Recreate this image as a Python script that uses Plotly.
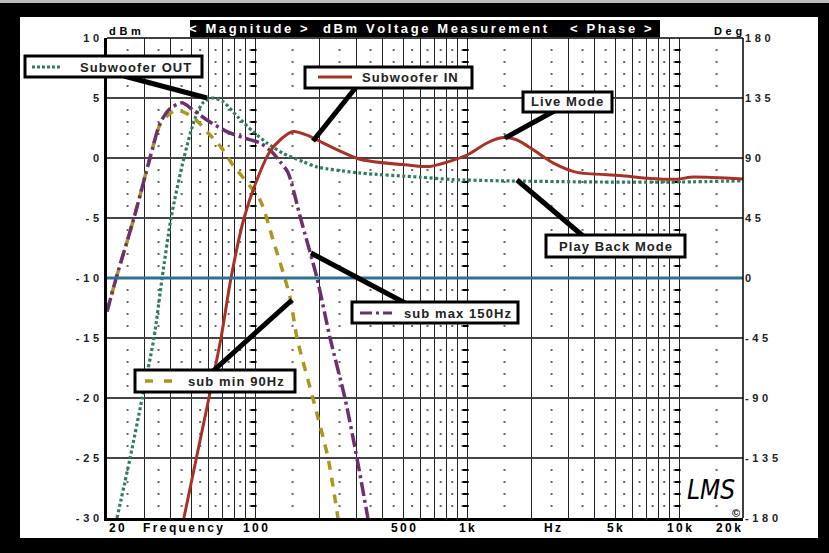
import numpy as np
import plotly.graph_objects as go

# ---------------- data ----------------
in_freq = [46.1, 60.5, 69.0, 76.9, 88.6, 105, 117, 131, 151, 176, 196, 312, 537, 668, 1000,
           1240, 1476, 1718, 2044, 2540, 3296, 5258, 7284, 10090, 11246, 20000]
in_db = [-30, -20, -15, -10, -5, -1.25, 0.5, 1.5, 2.2, 1.9, 1.5, -0.1, -0.6, -0.7, 0.25,
         1.25, 1.7, 1.5, 0.7, -0.4, -1.2, -1.45, -1.7, -1.75, -1.6, -1.75]

out_freq = [22.3, 25.7, 29.3, 33.3, 36.4, 40.1, 46.1, 52.0, 56.7, 63.2, 70.5, 83.0, 97.7,
            113.7, 135, 168, 196, 312, 599, 857, 1428, 4232, 10090, 20000]
out_db = [-30, -25, -20, -15, -10, -5, 0, 3.3, 4.6, 5.0, 4.7, 3.4, 2.2,
          1.25, 0.4, -0.3, -0.75, -1.25, -1.6, -1.8, -1.9, -2.0, -2.0, -1.9]

max_freq = [20, 22.1, 26.8, 31.9, 35.6, 39.6, 45.2, 50.9, 61.2, 73.6, 87.6, 105.4, 120,
            131, 142.8, 163.6, 195.7, 225.5, 265, 302, 340]
max_db = [-12.8, -10, -5, 0, 2.9, 4.1, 4.6, 4.0, 3.0, 2.2, 1.7, 1.25, 0.5,
          -0.3, -1.2, -5, -10, -15, -20, -25, -30]

min_freq = [20, 22.1, 26.8, 31.9, 35.6, 39.6, 42.8, 50.9, 59.9, 69.7, 78.6, 105.4, 121.3,
            146, 157.5, 187, 220.6, 245.8]
min_db = [-12.8, -10, -5, 0, 2.8, 3.7, 4.0, 3.4, 2.1, 0.8, -0.6, -3.5, -6.8,
          -11.6, -15, -20, -25, -30]

phase_freq = [20, 20000]
phase_deg = [0, 0]

db_ticks = [10, 5, 0, -5, -10, -15, -20, -25, -30]
deg_ticks = [180, 135, 90, 45, 0, -45, -90, -135, -180]
grid_freqs = [30, 40, 50, 60, 70, 80, 90, 100, 200, 300, 400, 500, 600, 700, 800, 900,
              1000, 2000, 3000, 4000, 5000, 6000, 7000, 8000, 9000, 10000]
decade_freqs = [100, 1000, 10000]
dot_freqs = [25, 35, 45, 55, 65, 75, 85, 95, 150, 250, 350, 450, 550, 650, 750, 850, 950,
             1500, 2500, 3500, 4500, 5500, 6500, 7500, 8500, 9500, 15000]
freq_labels = [(20, "20"), (45.7, "Frequency"), (100, "100"), (500, "500"), (1000, "1k"),
               (2520, "Hz"), (5000, "5k"), (10000, "10k"), (20000, "20k")]

# ---------------- styling ----------------
THIN = "\u2009"
HAIR = "\u200a"
GAP = "\u2004"
def sp(s, gap=THIN):
    return gap.join(s)

def num_label(v):
    s = str(v)
    if s.startswith("-"):
        return "-" + GAP + GAP.join(s[1:])
    return GAP.join(s)

FONT = "Liberation Sans"
RED = "#A83226"
GREEN = "#2E7D5E"
PURPLE = "#6E2F6E"
OLIVE = "#A8981C"
BLUE = "#2E7191"

L, R, T, B = 107, 743, 38, 518
W, H = 829, 553
def px(x):
    return (x - L) / (R - L)
def py(y):
    return (B - y) / (B - T)

fig = go.Figure()

# dot grid
dot_y = [v for v in range(-29, 10) if v % 5 != 0]
dx, dy = [], []
for f in dot_freqs:
    for v in dot_y:
        dx.append(f); dy.append(v)
fig.add_trace(go.Scatter(x=dx, y=dy, mode="markers",
                         marker=dict(size=2, color="#666666", symbol="square"),
                         hoverinfo="skip", showlegend=False))
tx, ty = [], []
for f in decade_freqs:
    for v in dot_y:
        tx.append(f * 0.985); ty.append(v)
fig.add_trace(go.Scatter(x=tx, y=ty, mode="markers",
                         marker=dict(size=4, color="#000000", symbol="line-ew",
                                     line=dict(width=2, color="#000000")),
                         hoverinfo="skip", showlegend=False))

fig.add_trace(go.Scatter(x=phase_freq, y=phase_deg, yaxis="y2", mode="lines",
                         line=dict(color=BLUE, width=3), showlegend=False))
fig.add_trace(go.Scatter(x=out_freq, y=out_db, mode="lines",
                         line=dict(color=GREEN, width=3.2, dash="3px,2.5px", shape="spline",
                                   smoothing=0.7), showlegend=False))
fig.add_trace(go.Scatter(x=min_freq, y=min_db, mode="lines",
                         line=dict(color=OLIVE, width=3.5, dash="9px,8px", shape="spline",
                                   smoothing=0.7), showlegend=False))
fig.add_trace(go.Scatter(x=max_freq, y=max_db, mode="lines",
                         line=dict(color=PURPLE, width=3.5, dash="14px,4px,3px,4px",
                                   shape="spline", smoothing=0.7), showlegend=False))
fig.add_trace(go.Scatter(x=in_freq, y=in_db, mode="lines",
                         line=dict(color=RED, width=3, shape="spline", smoothing=0.7),
                         showlegend=False))

shapes = []
# frame: white inner panel on black paper
shapes.append(dict(type="rect", xref="paper", yref="paper", x0=px(20), x1=px(818),
                   y0=py(538), y1=py(17), fillcolor="white", line=dict(width=0), layer="below"))
shapes.append(dict(type="rect", xref="paper", yref="paper", x0=px(0), x1=px(829),
                   y0=py(3), y1=py(0), fillcolor="#bbbbbb", line=dict(width=0), layer="below"))
# header bar
shapes.append(dict(type="rect", xref="paper", yref="paper", x0=px(190), x1=px(660),
                   y0=py(37), y1=py(20), fillcolor="black", line=dict(width=0), layer="above"))
# top and right frame lines
shapes.append(dict(type="line", xref="paper", yref="paper", x0=0, x1=1, y0=1, y1=1,
                   line=dict(color="black", width=1.5), layer="above"))
shapes.append(dict(type="line", xref="paper", yref="paper", x0=1, x1=1, y0=0, y1=1,
                   line=dict(color="black", width=1.5), layer="above"))

def pointer(x0, y0, x1, y1):
    shapes.append(dict(type="line", xref="paper", yref="paper", x0=px(x0), y0=py(y0),
                       x1=px(x1), y1=py(y1), line=dict(color="black", width=5), layer="above"))

def box(x0, y0, x1, y1):
    shapes.append(dict(type="rect", xref="paper", yref="paper", x0=px(x0), x1=px(x1),
                       y0=py(y1), y1=py(y0), fillcolor="white",
                       line=dict(color="black", width=3), layer="above"))

def sample(x0, x1, y, color, dash, width=3):
    shapes.append(dict(type="line", xref="paper", yref="paper", x0=px(x0), x1=px(x1),
                       y0=py(y), y1=py(y), line=dict(color=color, width=width, dash=dash),
                       layer="above"))

pointer(124, 76, 207, 98)
box(25, 56, 202, 77)
sample(32, 62, 67, GREEN, "3px,2px")

pointer(357, 86, 313, 141)
box(305, 67, 472, 88)
sample(318, 352, 77, RED, "solid")

pointer(556, 110, 505, 138)
box(523, 92, 612, 112)

pointer(517, 180, 583, 236)
box(546, 235, 685, 257)

pointer(311, 253, 405, 303)
box(352, 302, 518, 323)
sample(360, 392, 313, PURPLE, "12px,4px,3px,4px")

pointer(212, 372, 292, 300)
box(135, 370, 295, 392)
sample(145, 172, 381, OLIVE, "8px,11px", width=3.5)

annotations = []
def text(x, y, s, size=13, color="#222222", anchor="center", family=FONT, weight="bold",
         style="normal"):
    annotations.append(dict(xref="paper", yref="paper", x=px(x), y=py(y), text=s,
                            showarrow=False, xanchor=anchor, yanchor="middle",
                            font=dict(family=family, size=size, color=color, weight=weight,
                                      style=style)))

text(135, 67, sp("Subwoofer OUT", HAIR))
text(410, 77, sp("Subwoofer IN", HAIR))
text(567, 102, sp("Live Mode", HAIR))
text(615, 246, sp("Play Back Mode", HAIR))
text(457, 313, sp("sub max 150Hz", HAIR))
text(236, 381, sp("sub min 90Hz", HAIR))

text(248, 29, sp("< Magnitude >"), color="white")
text(435, 29, sp("dBm Voltage Measurement"), color="white")
text(611, 29, sp("< Phase >"), color="white")
text(107, 31, GAP.join("dBm"), size=11, color="black", anchor="left")
text(744, 31, GAP.join("Deg"), size=11, color="black", anchor="right")

text(711, 490, "LMS", size=26, color="black", family="DejaVu Sans Condensed",
     weight="normal", style="italic")
text(736, 513, "©", size=11, color="black")

for f, s in freq_labels:
    anchor = "center"
    if s == "20":
        anchor = "left"
    elif s == "20k":
        anchor = "right"
    annotations.append(dict(xref="x", yref="paper", x=np.log10(f), y=py(528), text=sp(s),
                            showarrow=False, xanchor=anchor, yanchor="middle",
                            font=dict(family=FONT, size=12, color="black", weight="bold")))

fig.update_layout(
    width=W, height=H,
    margin=dict(l=L, r=W - R, t=T, b=H - B, pad=0),
    paper_bgcolor="black", plot_bgcolor="white",
    showlegend=False,
    xaxis=dict(type="log", range=[np.log10(20), np.log10(20000)], tickvals=grid_freqs,
               showticklabels=False, ticks="", showgrid=True, gridcolor="#222222",
               gridwidth=1.3, zeroline=False, showline=True, linecolor="black",
               linewidth=3, fixedrange=True),
    yaxis=dict(range=[-30, 10], tickvals=db_ticks,
               ticktext=[num_label(v) for v in db_ticks],
               tickfont=dict(family=FONT, size=11, color="#222222", weight="bold"),
               ticks="", ticklabelstandoff=3, showgrid=True, gridcolor="#444444", gridwidth=1.8,
               zeroline=False, showline=True, linecolor="black", linewidth=2.5),
    yaxis2=dict(range=[-180, 180], overlaying="y", side="right", tickvals=deg_ticks,
                ticktext=[num_label(v) for v in deg_ticks],
                tickfont=dict(family=FONT, size=11, color="#222222", weight="bold"),
                ticks="", ticklabelstandoff=1, showgrid=False, zeroline=False, showline=False),
    shapes=shapes,
    annotations=annotations,
)

fig.write_html(
    "out.html",
    config={"displayModeBar": False},
    post_script="document.body.style.margin='0px';document.body.style.padding='0px';"
                "document.body.style.overflow='hidden';document.body.style.background='black';",
)
